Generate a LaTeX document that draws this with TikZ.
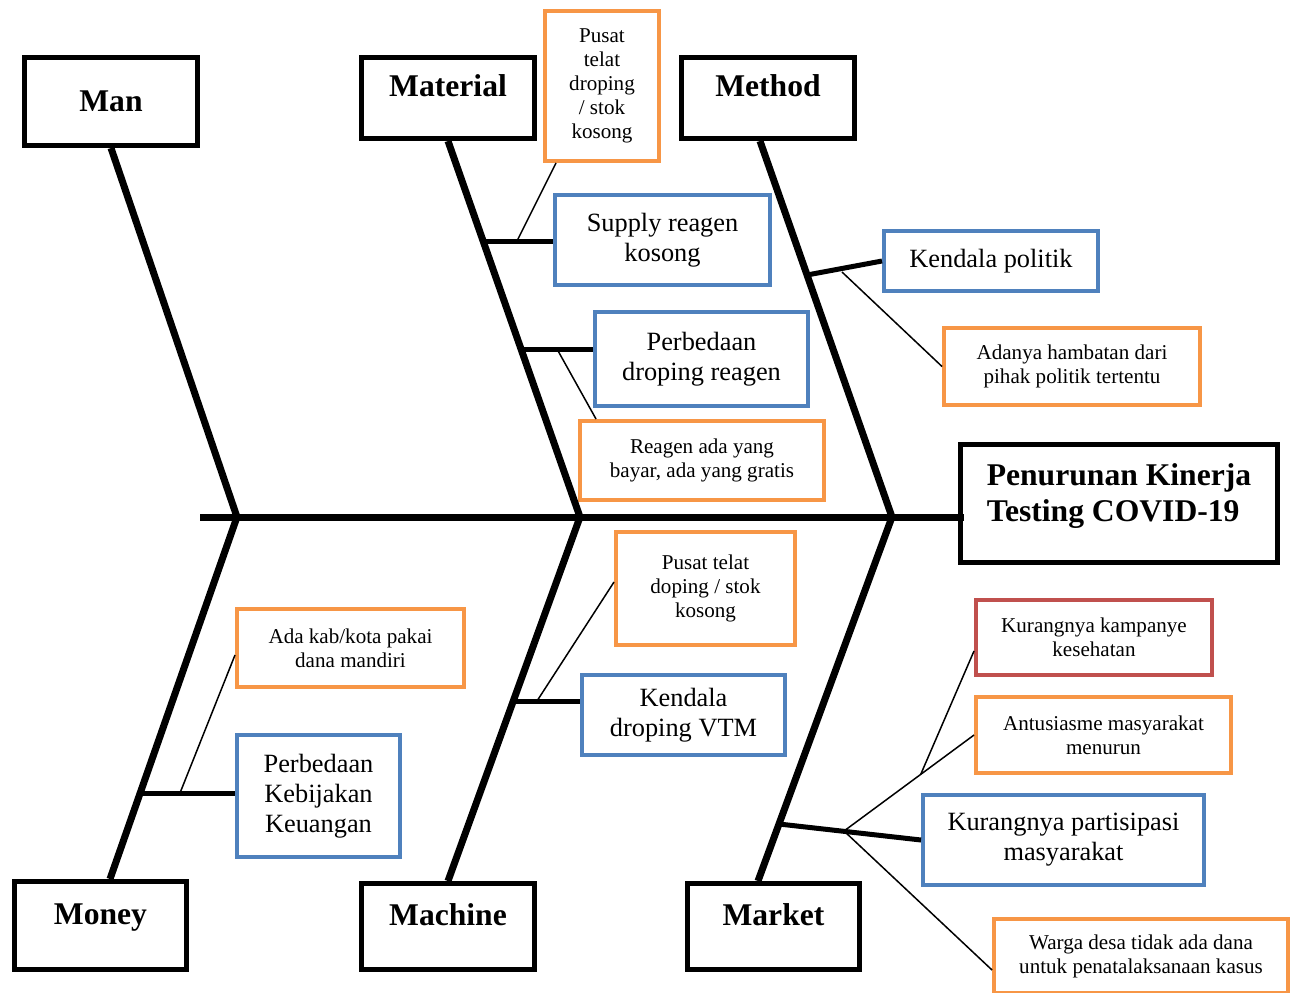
\documentclass[tikz,border=0pt]{standalone}
\usepackage{fontspec}
\setmainfont{Liberation Serif}
\usepackage{xcolor}
\definecolor{causeblue}{RGB}{79, 129, 189}
\definecolor{noteorange}{RGB}{247, 150, 70}
\definecolor{notered}{RGB}{192, 80, 77}
\usepackage{tikz}
\usetikzlibrary{calc}
\tikzset{
  catbox/.style={
    rectangle, draw=black, line width=0.1cm, fill=white, align=center,
    font=\fontsize{18}{20.5}\selectfont\bfseries,
    text height=0.45cm, text depth=0.05cm
  },
  raised/.style={text depth=0.51cm},
  effectbox/.style={
    catbox, align=left, text height=, text depth=0.45cm
  },
  causebox/.style={
    rectangle, draw=causeblue, line width=0.08cm, fill=white, align=center,
    font=\fontsize{15}{17}\selectfont
  },
  notebox/.style={
    causebox, draw=noteorange, font=\fontsize{12}{13.6}\selectfont
  },
  bone/.style={line width=0.14cm, draw=black},
  subbone/.style={line width=0.1cm, draw=black},
  link/.style={line width=0.03cm, draw=black},
}

\begin{document}
\begin{tikzpicture}[x=0.02cm, y=-0.02cm]
  \useasboundingbox (0,0) rectangle (1299,992);

  % categories
  \node[catbox, minimum width=3.46cm, minimum height=1.76cm] (man) at (111,101.5) {Man};
  \node[catbox, raised, minimum width=3.46cm, minimum height=1.62cm] (material) at (448,98) {Material};
  \node[catbox, raised, minimum width=3.46cm, minimum height=1.62cm] (method) at (768,98) {Method};
  \node[catbox, raised, minimum width=3.44cm, minimum height=1.76cm] (money) at (100.5,925.5) {Money};
  \node[catbox, raised, minimum width=3.46cm, minimum height=1.72cm] (machine) at (448,926.5) {Machine};
  \node[catbox, raised, minimum width=3.44cm, minimum height=1.72cm] (market) at (773.5,926.5) {Market};

  \node[effectbox, minimum width=6.34cm, minimum height=2.36cm] (effect) at (1119,503.5)
    {Penurunan Kinerja\\Testing COVID-19};

  % causes and notes
  \node[notebox, minimum width=2.28cm, minimum height=3.0cm] (pusat1) at (602,86)
    {Pusat\\telat\\droping\\/ stok\\kosong};
  \node[causebox, minimum width=4.3cm, minimum height=1.8cm] (supply) at (662.5,240)
    {Supply reagen\\kosong};
  \node[causebox, minimum width=4.28cm, minimum height=1.2cm] (politik) at (991,261)
    {Kendala politik};
  \node[notebox, minimum width=5.12cm, minimum height=1.54cm] (hambatan) at (1072,366.5)
    {Adanya hambatan dari\\pihak politik tertentu};
  \node[causebox, minimum width=4.26cm, minimum height=1.88cm] (perbreagen) at (701.5,359)
    {Perbedaan\\droping reagen};
  \node[notebox, minimum width=4.88cm, minimum height=1.58cm] (bayar) at (702,460.5)
    {Reagen ada yang\\bayar, ada yang gratis};
  \node[notebox, minimum width=3.58cm, minimum height=2.26cm] (pusat2) at (705.5,588.5)
    {Pusat telat\\doping / stok\\kosong};
  \node[causebox, minimum width=4.06cm, minimum height=1.6cm] (vtm) at (683.5,715)
    {Kendala\\droping VTM};
  \node[notebox, minimum width=4.54cm, minimum height=1.56cm] (mandiri) at (350.5,648)
    {Ada kab/kota pakai\\dana mandiri};
  \node[causebox, minimum width=3.26cm, minimum height=2.44cm] (kebijakan) at (318.5,796)
    {Perbedaan\\Kebijakan\\Keuangan};
  \node[notebox, draw=notered, minimum width=4.72cm, minimum height=1.5cm] (kampanye) at (1094,637.5)
    {Kurangnya kampanye\\kesehatan};
  \node[notebox, minimum width=5.1cm, minimum height=1.52cm] (antusiasme) at (1103.5,735)
    {Antusiasme masyarakat\\menurun};
  \node[causebox, minimum width=5.62cm, minimum height=1.8cm] (partisipasi) at (1063.5,840)
    {Kurangnya partisipasi\\masyarakat};
  \node[notebox, minimum width=5.88cm, minimum height=1.48cm] (warga) at (1141,956)
    {Warga desa tidak ada dana\\untuk penatalaksanaan kasus};

  % spine and bones
  \coordinate (tail) at (200,517);
  \coordinate (j1) at (237,517);
  \coordinate (j2) at (580,517);
  \coordinate (j3) at (892,517);
  \draw[bone] (tail) -- ([xshift=0.12cm]tail -| effect.west);
  \draw[bone] (man.south) -- (j1) -- ([xshift=0.19cm]money.north);
  \draw[bone] (material.south) -- (j2) -- (machine.north);
  \draw[bone] ([xshift=-0.16cm]method.south) -- (j3) -- ([xshift=-0.31cm]market.north);

  % sub-bones
  \coordinate (b1) at (483,241);
  \coordinate (b2) at (521,349);
  \coordinate (b3) at (807,275);
  \coordinate (b4) at (513,701);
  \coordinate (b5) at (140,793);
  \coordinate (b6) at (779,824);
  \draw[subbone] (b1) -- (b1 -| supply.west);
  \draw[subbone] (b2) -- (b2 -| perbreagen.west);
  \draw[subbone] (b3) -- (politik.west);
  \draw[subbone] (b4) -- (b4 -| vtm.west);
  \draw[subbone] (b5) -- (b5 -| kebijakan.west);
  \draw[subbone] (b6) -- (partisipasi.west);

  % thin links to the notes
  \coordinate (t1) at (517,241);
  \coordinate (t2) at (557,349);
  \coordinate (t3) at (842,272);
  \coordinate (t4) at (537,701);
  \coordinate (t5) at (180,793);
  \coordinate (t6) at (844,831);
  \coordinate (t7) at ($(t6)!0.59!(antusiasme.west)$);
  \draw[link] (t1) -- ([xshift=0.26cm]pusat1.south west);
  \draw[link] (t2) -- ([xshift=0.36cm]bayar.north west);
  \draw[link] (t3) -- (hambatan.west);
  \draw[link] (t4) -- ([yshift=0.13cm]pusat2.west);
  \draw[link] (t5) -- ([yshift=-0.14cm]mandiri.west);
  \draw[link] (t6) -- (antusiasme.west);
  \draw[link] (t6) -- ([yshift=-0.28cm]warga.west);
  \draw[link] (t7) -- ([yshift=-0.27cm]kampanye.west);

\end{tikzpicture}
\end{document}
